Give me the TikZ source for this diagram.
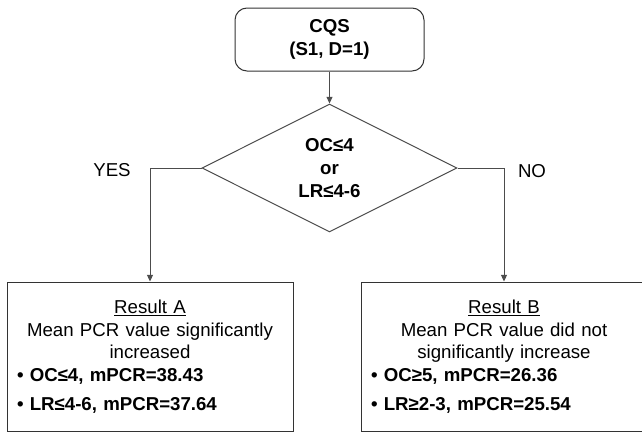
\documentclass[tikz,border=0pt]{standalone}
\usepackage{fontspec}
\setmainfont{Liberation Sans}
\usetikzlibrary{arrows.meta,positioning,shapes.geometric}

\begin{document}
\begin{tikzpicture}[
  x=0.75pt,y=-0.75pt,
  font=\fontsize{14}{17}\selectfont,
  startbox/.style={draw=black!80,line width=0.75pt,rounded corners=9pt,align=center,font=\fontsize{14}{17}\selectfont\bfseries,minimum width=141.75pt,minimum height=47.25pt},
  decision/.style={draw=black!70,line width=0.75pt,diamond,aspect=2,inner sep=0pt,align=center,font=\fontsize{14}{17}\selectfont\bfseries,minimum width=191.25pt,minimum height=96pt},
  result/.style={draw=black!80,line width=0.75pt,text width=199.5pt,inner xsep=7.5pt,minimum height=111.75pt},
  arrow/.style={-{Triangle[length=5pt,width=4.5pt]},draw=black!70,line width=0.75pt}
]
\useasboundingbox (0,0) rectangle (642,432);
\clip (0,0) rectangle (642,432);
\node[startbox] (cqs) at (329.5,39.5) {CQS\\(S1, D=1)};
\node[decision,below=24pt of cqs] (cond) {OC≤4\\or\\LR≤4-6};
\node[result] (resA) at (150,356.5) {\centering\underline{Result A}\\Mean PCR value significantly\\increased\par
  \raggedright\bfseries\textbullet\ OC≤4, mPCR=38.43\\[4.5pt]\textbullet\ LR≤4-6, mPCR=37.64\par};
\node[result] (resB) at (504,356.5) {\centering\underline{Result B}\\Mean PCR value did not\\significantly increase\par
  \raggedright\bfseries\textbullet\ OC≥5, mPCR=26.36\\[4.5pt]\textbullet\ LR≥2-3, mPCR=25.54\par};
\node (yes) at (112,170) {YES};
\node (no) at (532,171) {NO};
\draw[arrow] (cqs) -- (cond);
\draw[arrow] (cond.west) -| (resA.north);
\draw[arrow] (cond.east) -| (resB.north);
\end{tikzpicture}
\end{document}
